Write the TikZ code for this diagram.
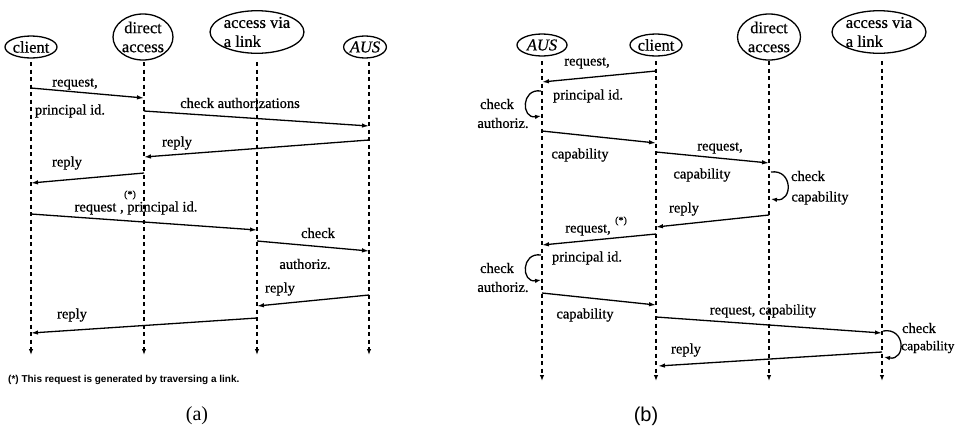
\documentclass[tikz,border=0pt]{standalone}
\usepackage{fontspec}
\setmainfont{Liberation Serif}
\newfontfamily\lblfont[FakeBold=0.6]{Liberation Serif}
\newfontfamily\fnsans{Liberation Sans}
\usetikzlibrary{shapes.geometric,arrows.meta}
\tikzset{
  actor/.style={ellipse, draw, line width=1.3pt, inner sep=0pt, font=\lblfont\fontsize{16.5}{19}\selectfont},
  life/.style={line width=1.2pt, dash pattern=on 4pt off 3.5pt, -{Latex[length=6pt,width=4.5pt]}},
  msg/.style={line width=1.3pt, -{Latex[length=7pt,width=4.5pt]}},
  loopa/.style={line width=1.3pt, -{Latex[length=6pt,width=4.5pt]}},
  lbl/.style={font=\lblfont\fontsize{14.5}{16}\selectfont, inner sep=0pt},
  star/.style={font=\lblfont\fontsize{10}{11}\selectfont, inner sep=0pt}
}
\begin{document}
\begin{tikzpicture}[x=1pt,y=-1pt]
\path[use as bounding box] (0,0) rectangle (957,429);

% ---------------- (a) ----------------
\node[actor, minimum width=52pt, minimum height=22pt] (acl) at (31,47) {client};
\node[actor, minimum width=60pt, minimum height=46pt, align=center] (ada) at (143,37) {direct\\access};
\node[actor, minimum width=92pt, minimum height=38pt, align=left] (ali) at (257,32) {access via\\a link};
\node[actor, minimum width=40pt, minimum height=22pt] (aau) at (365,47) {\itshape AUS};

\coordinate (aclT) at (31,62);  \coordinate (aclB) at (31,355);
\coordinate (adaT) at (144,62); \coordinate (adaB) at (144,355);
\coordinate (aliT) at (257,62); \coordinate (aliB) at (257,355);
\coordinate (aauT) at (369,62); \coordinate (aauB) at (369,355);
\foreach \n in {acl,ada,ali,aau} \draw[life] (\n T) -- (\n B);

\coordinate (a1s) at (31,88);   \coordinate (a1e) at (144,98);
\coordinate (a2s) at (144,111); \coordinate (a2e) at (369,126);
\coordinate (a3s) at (369,140); \coordinate (a3e) at (144,157);
\coordinate (a4s) at (144,173); \coordinate (a4e) at (31,183);
\coordinate (a5s) at (31,214);  \coordinate (a5e) at (257,230);
\coordinate (a6s) at (257,241); \coordinate (a6e) at (369,251);
\coordinate (a7s) at (369,295); \coordinate (a7e) at (257,306);
\coordinate (a8s) at (257,318); \coordinate (a8e) at (31,333);
\foreach \i in {1,...,8} \draw[msg] (a\i s) -- (a\i e);

\node[lbl] (la1) at (75,84) {request,};
\node[lbl] (la2) at (70,111) {principal id.};
\node[lbl] (la3) at (240,103) {check authorizations};
\node[lbl] (la4) at (177,143) {reply};
\node[lbl] (la5) at (67,163) {reply};
\node[star] (la6) at (130,195) {(*)};
\node[lbl] (la7) at (136,208) {request , principal id.};
\node[lbl] (la8) at (318,233) {check};
\node[lbl] (la9) at (305,264) {authoriz.};
\node[lbl] (la10) at (280,289) {reply};
\node[lbl] (la11) at (72,315) {reply};
\node[font=\fnsans\bfseries\fontsize{10}{11}\selectfont, inner sep=0pt, anchor=west] (fn) at (8,380) {(*) This request is generated by traversing a link.};
\node[font=\fontsize{20}{22}\selectfont, inner sep=0pt] (capa) at (197,416) {(a)};

% ---------------- (b) ----------------
\node[actor, minimum width=50pt, minimum height=22pt] (bau) at (542,45) {\itshape AUS};
\node[actor, minimum width=52pt, minimum height=22pt] (bcl) at (656,45) {client};
\node[actor, minimum width=63pt, minimum height=46pt, align=center] (bda) at (769,37) {direct\\access};
\node[actor, minimum width=92pt, minimum height=38pt, align=left] (bli) at (879,32) {access via\\a link};

\coordinate (bauT) at (542,61); \coordinate (bauB) at (542,381);
\coordinate (bclT) at (656,61); \coordinate (bclB) at (656,381);
\coordinate (bdaT) at (769,61); \coordinate (bdaB) at (769,381);
\coordinate (bliT) at (882,61); \coordinate (bliB) at (882,381);
\foreach \n in {bau,bcl,bda,bli} \draw[life] (\n T) -- (\n B);

\coordinate (b1s) at (656,71);  \coordinate (b1e) at (542,82);
\coordinate (b2s) at (542,131); \coordinate (b2e) at (656,143);
\coordinate (b3s) at (656,152); \coordinate (b3e) at (769,163);
\coordinate (b4s) at (769,215); \coordinate (b4e) at (656,227);
\coordinate (b5s) at (656,234); \coordinate (b5e) at (542,245);
\coordinate (b6s) at (542,293); \coordinate (b6e) at (656,305);
\coordinate (b7s) at (656,317); \coordinate (b7e) at (882,333);
\coordinate (b8s) at (882,352); \coordinate (b8e) at (658,366);
\foreach \i in {1,...,8} \draw[msg] (b\i s) -- (b\i e);

% self loops
\coordinate (l1s) at (541,91);  \coordinate (l1e) at (541,116);
\draw[loopa] (l1s) .. controls (521,88) and (521,119) .. (l1e);
\coordinate (l2s) at (771,172); \coordinate (l2e) at (771,199);
\draw[loopa] (l2s) .. controls (793,169) and (793,202) .. (l2e);
\coordinate (l3s) at (541,255); \coordinate (l3e) at (541,280);
\draw[loopa] (l3s) .. controls (521,252) and (521,283) .. (l3e);
\coordinate (l4s) at (883,331); \coordinate (l4e) at (884,357);
\draw[loopa] (l4s) .. controls (906,327) and (906,361) .. (l4e);

\node[lbl] (lb1) at (587,63) {request,};
\node[lbl] (lb2) at (588,96) {principal id.};
\node[lbl] (lb3) at (497,104) {check};
\node[lbl] (lb4) at (503,123) {authoriz.};
\node[lbl] (lb5) at (580,155) {capability};
\node[lbl] (lb6) at (720,148) {request,};
\node[lbl] (lb7) at (702,175) {capability};
\node[lbl] (lb8) at (808,176) {check};
\node[lbl] (lb9) at (820,198) {capability};
\node[lbl] (lb10) at (684,209) {reply};
\node[lbl] (lb11) at (588,230) {request,};
\node[star] (lb12) at (621,221) {(*)};
\node[lbl] (lb13) at (587,258) {principal id.};
\node[lbl] (lb14) at (497,268) {check};
\node[lbl] (lb15) at (503,287) {authoriz.};
\node[lbl] (lb16) at (585,315) {capability};
\node[lbl] (lb17) at (763,311) {request, capability};
\node[lbl] (lb18) at (919,328) {check};
\node[lbl,font=\lblfont\fontsize{13.5}{15}\selectfont,anchor=west] (lb19) at (901,347) {capability};
\node[lbl] (lb20) at (686,350) {reply};
\node[font=\fnsans\fontsize{20}{22}\selectfont, inner sep=0pt] (capb) at (646,416) {(b)};
\end{tikzpicture}
\end{document}
